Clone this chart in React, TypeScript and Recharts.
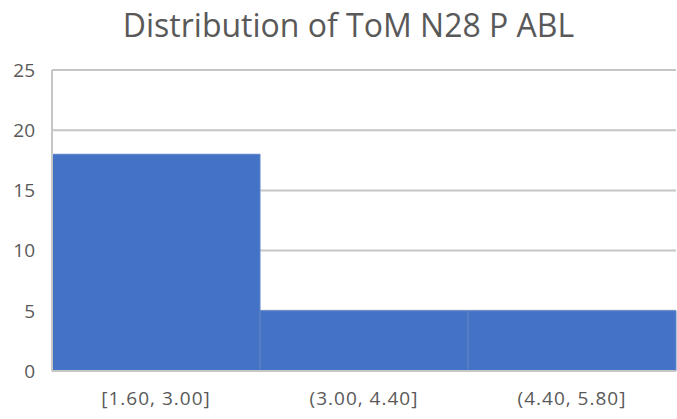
import React from 'react';
import { BarChart, Bar, XAxis, YAxis, CartesianGrid } from 'recharts';

const BINS = ['[1.60, 3.00]', '(3.00, 4.40]', '(4.40, 5.80]'];
const COUNTS = [18, 5, 5];
const Y_TICKS = [0, 5, 10, 15, 20, 25];

const data = BINS.map((bin, i) => ({ bin, count: COUNTS[i] }));

const FONT = "'Open Sans', 'Liberation Sans', Arial, sans-serif";
const TEXT = '#595959';

export default function App() {
  return (
    <div style={{ position: 'absolute', left: 0, top: 0, width: 677, height: 419, background: '#fff', fontFamily: FONT }}>
      <div style={{ position: 'absolute', top: 3, left: 0, width: 697, textAlign: 'center', fontSize: 32, color: TEXT, whiteSpace: 'nowrap' }}>
        Distribution of ToM N28 P ABL
      </div>
      <BarChart
        width={677}
        height={419}
        data={data}
        margin={{ top: 70, right: 1, left: 0, bottom: 0 }}
        barCategoryGap={0}
      >
        <CartesianGrid vertical={false} stroke="#c6c6c6" strokeWidth={2} />
        <XAxis
          dataKey="bin"
          height={48}
          tickLine={false}
          axisLine={{ stroke: '#c6c6c6', strokeWidth: 2 }}
          tick={{ fill: TEXT, fontSize: 19, fontFamily: FONT, letterSpacing: 1 }}
          tickMargin={15}
        />
        <YAxis
          width={52}
          domain={[0, 25]}
          ticks={Y_TICKS}
          tickLine={false}
          axisLine={{ stroke: '#c6c6c6', strokeWidth: 2 }}
          tick={{ fill: TEXT, fontSize: 19, fontFamily: FONT }}
          tickMargin={11}
        />
        <Bar dataKey="count" fill="#4472c4" stroke="#5d84c9" strokeWidth={1} isAnimationActive={false} />
      </BarChart>
    </div>
  );
}
